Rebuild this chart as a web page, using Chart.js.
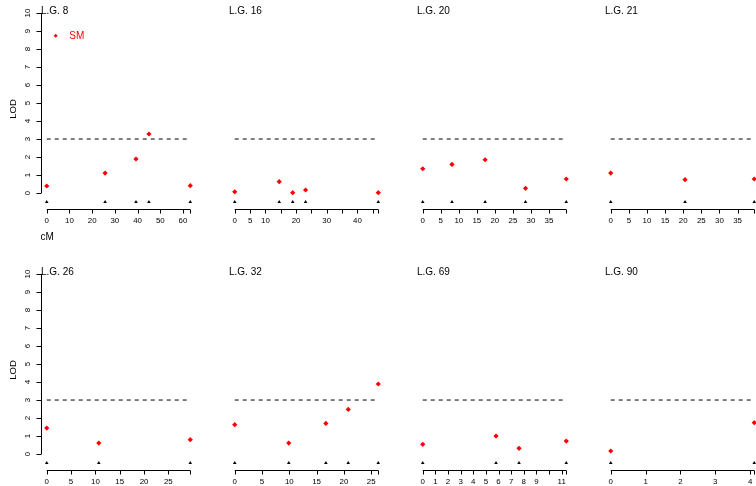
<!DOCTYPE html>
<html>
<head>
<meta charset="utf-8">
<title>LOD by linkage group</title>
<script src="https://cdn.jsdelivr.net/npm/chart.js@4.4.1/dist/chart.umd.min.js"></script>
<style>
  html, body { margin: 0; padding: 0; background: #fff; overflow: hidden; }
  #wrap { position: relative; width: 756px; height: 486px; overflow: hidden; background: #fff; }
  #wrap canvas { position: absolute; }
</style>
</head>
<body>
<div id="wrap"></div>
<script>
const groups = ['L.G. 8', 'L.G. 16', 'L.G. 20', 'L.G. 21', 'L.G. 26', 'L.G. 32', 'L.G. 69', 'L.G. 90'];

// marker positions (cM) and LOD per linkage group
const pos8 = [0, 25.7, 39.3, 45.0, 63.2];
const lod8 = [0.39, 1.11, 1.89, 3.28, 0.41];
const pos16 = [0, 14.5, 18.9, 23.1, 46.8];
const lod16 = [0.07, 0.63, 0.02, 0.17, 0.02];
const pos20 = [0, 8.1, 17.3, 28.5, 39.8];
const lod20 = [1.35, 1.59, 1.85, 0.26, 0.78];
const pos21 = [0, 20.5, 39.6];
const lod21 = [1.11, 0.74, 0.78];
const pos26 = [0, 10.7, 29.5];
const lod26 = [1.44, 0.61, 0.80];
const pos32 = [0, 9.9, 16.7, 20.8, 26.3];
const lod32 = [1.63, 0.61, 1.70, 2.48, 3.89];
const pos69 = [0, 5.8, 7.62, 11.36];
const lod69 = [0.54, 1.0, 0.32, 0.72];
const pos90 = [0, 4.12];
const lod90 = [0.17, 1.74];

// x tick marks and the labels R kept
const xt8 = [0, 10, 20, 30, 40, 50, 60];
const xt16 = [0, 5, 10, 15, 20, 25, 30, 35, 40, 45];
const xl16 = [0, 5, 10, 20, 30, 40];
const xt20 = [0, 5, 10, 15, 20, 25, 30, 35];
const xt26 = [0, 5, 10, 15, 20, 25];
const xt69 = [0, 1, 2, 3, 4, 5, 6, 7, 8, 9, 10, 11];
const xl69 = [0, 1, 2, 3, 4, 5, 6, 7, 8, 9, 11];
const xt90 = [0, 1, 2, 3, 4];

const lodTicks = [0, 1, 2, 3, 4, 5, 6, 7, 8, 9, 10];
const threshold = 3;
const markerLevel = -0.5;
const legendLabel = 'SM';

const FONT = '"Liberation Sans", Arial, Helvetica, sans-serif';

const panels = [
  { pos: pos8, lod: lod8, ticks: xt8, labels: xt8 },
  { pos: pos16, lod: lod16, ticks: xt16, labels: xl16 },
  { pos: pos20, lod: lod20, ticks: xt20, labels: xt20 },
  { pos: pos21, lod: lod21, ticks: xt20, labels: xt20 },
  { pos: pos26, lod: lod26, ticks: xt26, labels: xt26 },
  { pos: pos32, lod: lod32, ticks: xt26, labels: xt26 },
  { pos: pos69, lod: lod69, ticks: xt69, labels: xl69 },
  { pos: pos90, lod: lod90, ticks: xt90, labels: xt90 }
];

// R style axes, drawn from the chart's own scales
const rAxes = {
  id: 'rAxes',
  afterDraw(chart, args, o) {
    const ctx = chart.ctx;
    const a = chart.chartArea;
    const x = chart.scales.x;
    const y = chart.scales.y;
    ctx.save();
    ctx.strokeStyle = '#000';
    ctx.fillStyle = '#000';
    ctx.lineWidth = 1;

    ctx.font = '10px ' + FONT;
    ctx.textAlign = 'left';
    ctx.textBaseline = 'alphabetic';
    ctx.fillText(o.title, a.left, 14);

    const yb = Math.floor(a.bottom) + 0.5;
    ctx.beginPath();
    ctx.moveTo(x.getPixelForValue(o.ticks[0]), yb);
    ctx.lineTo(x.getPixelForValue(o.end), yb);
    o.ticks.concat([o.end]).forEach(function (v) {
      const px = Math.round(x.getPixelForValue(v)) + 0.5;
      ctx.moveTo(px, yb);
      ctx.lineTo(px, yb + 4);
    });
    ctx.stroke();

    ctx.font = '7.9px ' + FONT;
    ctx.textAlign = 'center';
    o.labels.forEach(function (v) {
      ctx.fillText(String(v), x.getPixelForValue(v), a.bottom + 13.5);
    });

    if (o.yAxis) {
      const xl = Math.floor(a.left) + 0.5;
      ctx.beginPath();
      ctx.moveTo(xl, y.getPixelForValue(lodTicks[0]));
      ctx.lineTo(xl, y.getPixelForValue(lodTicks[lodTicks.length - 1]));
      lodTicks.forEach(function (v) {
        const py = Math.round(y.getPixelForValue(v)) + 0.5;
        ctx.moveTo(xl, py);
        ctx.lineTo(xl - 5, py);
      });
      ctx.stroke();
      lodTicks.forEach(function (v) {
        ctx.save();
        ctx.translate(30, y.getPixelForValue(v));
        ctx.rotate(-Math.PI / 2);
        ctx.fillText(String(v), 0, 0);
        ctx.restore();
      });

      ctx.font = '9.5px ' + FONT;
      ctx.save();
      ctx.translate(15.5, (a.top + a.bottom) / 2 + 1.5);
      ctx.rotate(-Math.PI / 2);
      ctx.fillText('LOD', 0, 0);
      ctx.restore();

      ctx.font = '10px ' + FONT;
      ctx.textAlign = 'left';
      ctx.fillText('cM', a.left - 0.5, a.bottom + 30.8);
    }

    if (o.legend) {
      ctx.fillStyle = '#ff0000';
      const lx = a.left + 14.7, ly = a.top + 30.3;
      ctx.beginPath();
      ctx.moveTo(lx, ly - 2);
      ctx.lineTo(lx + 2, ly);
      ctx.lineTo(lx, ly + 2);
      ctx.lineTo(lx - 2, ly);
      ctx.closePath();
      ctx.fill();
      ctx.font = '10px ' + FONT;
      ctx.textAlign = 'left';
      ctx.fillText(o.legend, a.left + 28.3, a.top + 33.9);
    }
    ctx.restore();
  }
};

const wrap = document.getElementById('wrap');

function makePanel(p, i) {
  const col = i % 4;
  const row = Math.floor(i / 4);
  const h = row === 0 ? 261 : 225;
  const canvas = document.createElement('canvas');
  canvas.width = 210;
  canvas.height = h;
  canvas.style.left = (col * 188) + 'px';
  canvas.style.top = (row * 261) + 'px';
  wrap.appendChild(canvas);

  const lo = Math.min.apply(null, p.pos);
  const hi = Math.max.apply(null, p.pos);
  const xpad = (hi - lo) * 0.04;
  const yTop = lodTicks[lodTicks.length - 1];
  const ypad = (yTop - markerLevel) * 0.04;

  new Chart(canvas.getContext('2d'), {
    type: 'scatter',
    data: {
      datasets: [
        {
          label: 'LOD',
          data: p.pos.map(function (v, k) { return { x: v, y: p.lod[k] }; }),
          pointStyle: 'rectRot',
          pointRadius: 2.6,
          backgroundColor: '#ff0000',
          borderWidth: 0
        },
        {
          label: 'markers',
          data: p.pos.map(function (v) { return { x: v, y: markerLevel }; }),
          pointStyle: 'triangle',
          pointRadius: 2.1,
          backgroundColor: '#000',
          borderWidth: 0
        },
        {
          type: 'line',
          label: 'threshold',
          data: [{ x: lo, y: threshold }, { x: hi, y: threshold }],
          borderColor: '#000',
          borderWidth: 1,
          borderDash: [4, 4],
          pointRadius: 0,
          fill: false
        }
      ]
    },
    options: {
      responsive: false,
      animation: false,
      events: [],
      layout: { padding: { left: 41, right: 14, top: 5.44, bottom: h - 209.6 } },
      scales: {
        x: { type: 'linear', display: false, min: lo - xpad, max: hi + xpad },
        y: { type: 'linear', display: false, min: markerLevel - ypad, max: yTop + ypad }
      },
      plugins: {
        legend: { display: false },
        tooltip: { enabled: false },
        rAxes: {
          title: groups[i],
          ticks: p.ticks,
          labels: p.labels,
          end: hi,
          yAxis: col === 0,
          legend: i === 0 ? legendLabel : null
        }
      }
    },
    plugins: [rAxes]
  });
}

panels.forEach(makePanel);
</script>
</body>
</html>
